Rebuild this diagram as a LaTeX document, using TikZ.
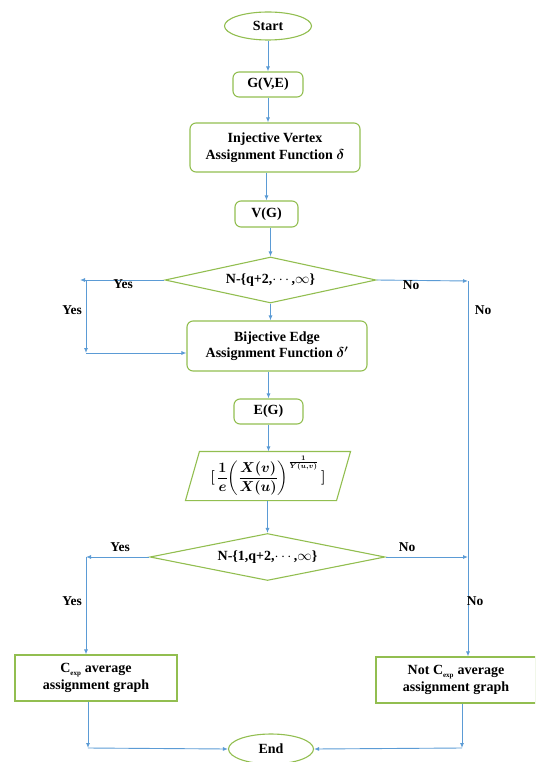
\documentclass[tikz,border=0pt]{standalone}
\usepackage{fontspec}
\usepackage{amsmath}
\usepackage{bm}
\setmainfont{Liberation Serif}
\usetikzlibrary{shapes.geometric,arrows.meta}
\definecolor{boxgreen}{RGB}{146,190,80}
\definecolor{arrblue}{RGB}{91,155,213}
\newcommand{\myformula}{$\bm{[}\,\dfrac{\bm{1}}{\bm{e}}\bm{\biggl(}\dfrac{\bm{X(v)}}{\bm{X(u)}}\bm{\biggr)}^{\frac{\bm{1}}{\bm{Y(u,v)}}}\,\bm{]}$}
\tikzset{
  base/.style={draw=boxgreen, line width=1.1pt, font=\fontsize{14}{16.5}\selectfont\bfseries, align=center, inner sep=0pt},
  term/.style={base, ellipse, minimum width=87pt, minimum height=28pt},
  rbox/.style={base, rectangle, rounded corners=6pt},
  sbox/.style={base, rectangle},
  dec/.style={base, diamond, aspect=4.6},
  conn/.style={draw=arrblue, line width=0.9pt},
  arr/.style={conn, -{Latex[length=5pt,width=4pt]}},
  lbl/.style={font=\fontsize{13.5}{16}\selectfont\bfseries},
}
\begin{document}
\begin{tikzpicture}[x=1pt,y=-1pt]
\useasboundingbox (0,0) rectangle (535,762);
\clip (0,0) rectangle (535,762);
% nodes
\node[term] (start) at (268,26) {Start};
\node[rbox, minimum width=70pt, minimum height=25pt] (g) at (268,84.5) {G(V,E)};
\node[rbox, minimum width=170pt, minimum height=49pt] (inj) at (275,147.5) {Injective Vertex\\Assignment Function $\bm{\delta}$};
\node[rbox, minimum width=63pt, minimum height=26pt] (v) at (266.5,214) {V(G)};
\node[dec, minimum width=211pt, minimum height=46pt] (d1) at (270.5,280) {N-\{q+2,$\cdots$,$\infty$\}};
\node[rbox, minimum width=180pt, minimum height=50pt] (bij) at (277,346) {Bijective Edge\\Assignment Function $\bm{\delta^{\prime}}$};
\node[rbox, minimum width=69pt, minimum height=25pt] (e) at (268.5,411.5) {E(G)};
\node[base, draw=none, rectangle, minimum width=150pt, minimum height=48pt] (f) at (268,476) {\myformula};
\draw[draw=boxgreen, line width=1.1pt] ([xshift=7pt]f.north west) -- ([xshift=7pt]f.north east) -- ([xshift=-7pt]f.south east) -- ([xshift=-7pt]f.south west) -- cycle;
\node[dec, minimum width=235pt, minimum height=47pt] (d2) at (267.5,557) {N-\{1,q+2,$\cdots$,$\infty$\}};
\node[sbox, minimum width=162pt, minimum height=46pt] (c) at (96,678) {C\textsubscript{\scriptsize exp} average\\assignment graph};
\node[sbox, minimum width=160pt, minimum height=46pt] (nc) at (456,680) {Not C\textsubscript{\scriptsize exp} average\\assignment graph};
\node[term, minimum width=85pt, minimum height=30pt] (end) at (271,749) {End};
% helper coordinates
\coordinate (y1) at (80,280);
\coordinate (y1t) at (86,280);
\coordinate (y1b) at (86,353);
\coordinate (n1) at (468,281);
\coordinate (n2) at (468,557);
\coordinate (y2) at (86,557);
\coordinate (cb) at (88,748);
\coordinate (nb) at (462,748);
% connectors
\draw[arr] (start) -- (g);
\draw[arr] (g) -- (g |- inj.north);
\draw[arr] (inj.south -| v) -- (v);
\draw[arr] (v.south -| d1.north) -- (d1.north);
\draw[arr] (d1.south) -- (d1.south |- bij.north);
\draw[arr] (bij.south -| e) -- (e);
\draw[arr] (e) -- (e |- f.north);
\draw[arr] (f.south -| d2.north) -- (d2.north);
% first decision
\draw[arr] (d1.west) -- (y1);
\draw[arr] (y1t) -- (y1b);
\draw[arr] (y1b) -- (y1b -| bij.west);
\draw[arr] (d1.east) -- (n1);
\draw[conn] (n1) -- (n2);
\draw[arr] (n2) -- (n2 |- nc.north);
\node[lbl] (l1) at (123,284) {Yes};
\node[lbl] (l2) at (72,310) {Yes};
\node[lbl] (l3) at (411,285) {No};
\node[lbl] (l4) at (483,310) {No};
% second decision
\draw[arr] (d2.west) -- (y2);
\draw[arr] (y2) -- (y2 |- c.north);
\draw[arr] (d2.east) -- (n2);
\node[lbl] (l5) at (120,547) {Yes};
\node[lbl] (l6) at (72,601) {Yes};
\node[lbl] (l7) at (407,547) {No};
\node[lbl] (l8) at (475,601) {No};
% to end
\draw[arr] (c.south -| cb) -- (cb);
\draw[arr] (cb) -- (end.west);
\draw[arr] (nc.south -| nb) -- (nb);
\draw[arr] (nb) -- (end.east);
\end{tikzpicture}
\end{document}
